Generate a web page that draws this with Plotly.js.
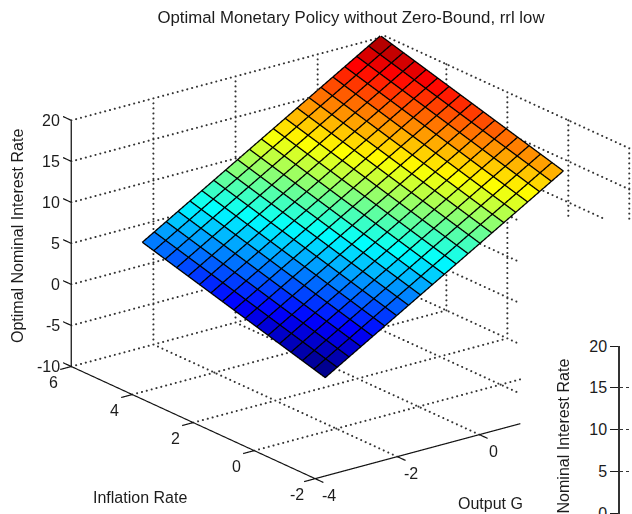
<!DOCTYPE html>
<html><head><meta charset="utf-8">
<script src="https://cdn.plot.ly/plotly-3.0.1.min.js"></script>
<style>html,body{margin:0;padding:0;background:#fff}#c{width:632px;height:514px}</style>
</head><body><div id="c"></div>
<script>
const outputGap=[-2.27,-1.98,-1.69,-1.40,-1.11,-0.82,-0.53,-0.24,0.05,0.34,0.63,0.92,1.21,1.50,1.79,2.08,2.37,2.66,2.95,3.24,3.53];
const inflation=[0,0.375,0.75,1.125,1.5,1.875,2.25,2.625,3,3.375,3.75,4.125,4.5,4.875,5.25,5.625,6];
const rate=[
[-3.50,-2.63,-1.76,-0.89,-0.02,0.85,1.72,2.59,3.46,4.33,5.20,6.07,6.94,7.81,8.68,9.55,10.42,11.29,12.16,13.03,13.90],
[-3.11,-2.24,-1.37,-0.50,0.37,1.24,2.11,2.98,3.85,4.72,5.59,6.46,7.33,8.20,9.07,9.94,10.81,11.68,12.55,13.42,14.29],
[-2.72,-1.85,-0.98,-0.11,0.76,1.63,2.50,3.37,4.24,5.11,5.98,6.85,7.72,8.59,9.46,10.33,11.20,12.07,12.94,13.81,14.68],
[-2.33,-1.46,-0.59,0.28,1.15,2.02,2.89,3.76,4.63,5.50,6.37,7.24,8.11,8.98,9.85,10.72,11.59,12.46,13.33,14.20,15.07],
[-1.94,-1.07,-0.20,0.67,1.54,2.41,3.28,4.15,5.02,5.89,6.76,7.63,8.50,9.37,10.24,11.11,11.98,12.85,13.72,14.59,15.46],
[-1.55,-0.68,0.19,1.06,1.93,2.80,3.67,4.54,5.41,6.28,7.15,8.02,8.89,9.76,10.63,11.50,12.37,13.24,14.11,14.98,15.85],
[-1.16,-0.29,0.58,1.45,2.32,3.19,4.06,4.93,5.80,6.67,7.54,8.41,9.28,10.15,11.02,11.89,12.76,13.63,14.50,15.37,16.24],
[-0.77,0.10,0.97,1.84,2.71,3.58,4.45,5.32,6.19,7.06,7.93,8.80,9.67,10.54,11.41,12.28,13.15,14.02,14.89,15.76,16.63],
[-0.38,0.49,1.36,2.23,3.10,3.97,4.84,5.71,6.58,7.45,8.32,9.19,10.06,10.93,11.80,12.67,13.54,14.41,15.28,16.15,17.02],
[0.01,0.88,1.75,2.62,3.49,4.36,5.23,6.10,6.97,7.84,8.71,9.58,10.45,11.32,12.19,13.06,13.93,14.80,15.67,16.54,17.41],
[0.40,1.27,2.14,3.01,3.88,4.75,5.62,6.49,7.36,8.23,9.10,9.97,10.84,11.71,12.58,13.45,14.32,15.19,16.06,16.93,17.80],
[0.79,1.66,2.53,3.40,4.27,5.14,6.01,6.88,7.75,8.62,9.49,10.36,11.23,12.10,12.97,13.84,14.71,15.58,16.45,17.32,18.19],
[1.18,2.05,2.92,3.79,4.66,5.53,6.40,7.27,8.14,9.01,9.88,10.75,11.62,12.49,13.36,14.23,15.10,15.97,16.84,17.71,18.58],
[1.57,2.44,3.31,4.18,5.05,5.92,6.79,7.66,8.53,9.40,10.27,11.14,12.01,12.88,13.75,14.62,15.49,16.36,17.23,18.10,18.97],
[1.96,2.83,3.70,4.57,5.44,6.31,7.18,8.05,8.92,9.79,10.66,11.53,12.40,13.27,14.14,15.01,15.88,16.75,17.62,18.49,19.36],
[2.35,3.22,4.09,4.96,5.83,6.70,7.57,8.44,9.31,10.18,11.05,11.92,12.79,13.66,14.53,15.40,16.27,17.14,18.01,18.88,19.75],
[2.74,3.61,4.48,5.35,6.22,7.09,7.96,8.83,9.70,10.57,11.44,12.31,13.18,14.05,14.92,15.79,16.66,17.53,18.40,19.27,20.14]
];
const xTicks=[-4,-2,0,2];
const xLabels=[-4,-2,0];
const yTicks=[-2,0,2,4,6];
const zTicks=[-10,-5,0,5,10,15,20];
const insetTicks=[0,5,10,15,20];
const X0=-4,X1=3.65,Y0=-2,Y1=6,Z0=-10,Z1=20;
const INK='#1c1c1c',FONT='"Liberation Sans",Arial,sans-serif',FS=16;

// the neighbouring panel covers this corner of the picture: x>522, y>218
function approxPx(x,y,z){return [317+41*(x+4)-30.5*(y+2),477-11*(x+4)-14*(y+2)-8.2*(z+10)];}
function visible(p){return !(p[0]>522&&p[1]>218);}
function lerp(a,b,t){return [a[0]+(b[0]-a[0])*t,a[1]+(b[1]-a[1])*t,a[2]+(b[2]-a[2])*t];}
function lastVisible(a,b){let n=300,last=0;for(let s=0;s<=n;s++){const q=lerp(a,b,s/n);if(!visible(approxPx(q[0],q[1],q[2])))break;last=s/n;}return last;}
function pushSeg(a,b,o){const e=lerp(a,b,lastVisible(a,b));o.x.push(a[0],e[0],null);o.y.push(a[1],e[1],null);o.z.push(a[2],e[2],null);}
function pushDots(a,b,o){
  const pa=approxPx(a[0],a[1],a[2]),pb=approxPx(b[0],b[1],b[2]);
  const len=Math.hypot(pb[0]-pa[0],pb[1]-pa[1]),n=Math.round(len/5),last=lastVisible(a,b);
  for(let s=0;s<=n;s++){const t=s/n;if(t>last)break;const q=lerp(a,b,t);o.x.push(q[0]);o.y.push(q[1]);o.z.push(q[2]);}
}
const dots={x:[],y:[],z:[]},solid={x:[],y:[],z:[]},mesh={x:[],y:[],z:[]};
zTicks.forEach(z=>{pushDots([X0,Y1,z],[X1,Y1,z],dots);pushDots([X1,Y1,z],[X1,Y0,z],dots);});
xTicks.slice(1).forEach(x=>{pushDots([x,Y1,Z1],[x,Y1,Z0],dots);pushDots([x,Y1,Z0],[x,Y0,Z0],dots);});
yTicks.slice(1,4).forEach(y=>{pushDots([X1,y,Z1],[X1,y,Z0],dots);pushDots([X0,y,Z0],[X1,y,Z0],dots);});
pushDots([X1,Y1,Z1],[X1,Y1,Z0],dots);pushDots([X1,Y0,Z1],[X1,Y0,Z0],dots);
pushSeg([X0,Y1,Z0],[X0,Y1,Z1],solid);pushSeg([X0,Y1,Z0],[X0,Y0,Z0],solid);pushSeg([X0,Y0,Z0],[X1,Y0,Z0],solid);
zTicks.forEach(z=>pushSeg([X0,Y1,z],[X0,Y1+0.27,z],solid));
yTicks.forEach(y=>pushSeg([X0,y,Z0],[X0-0.27,y,Z0],solid));
xTicks.forEach(x=>{if(x<2)pushSeg([x,Y0,Z0],[x,Y0-0.27,Z0],solid);});

// surface mesh
const mx=[],my=[],mz=[],mi=[],mj=[],mk=[],mc=[],nx=outputGap.length,ny=inflation.length;
inflation.forEach((y,j)=>outputGap.forEach((x,i)=>{mx.push(x);my.push(y);mz.push(rate[j][i]);}));
for(let j=0;j<ny-1;j++)for(let i=0;i<nx-1;i++){
  const a=j*nx+i,b=a+1,c=a+nx,d=c+1;
  mi.push(a,a);mj.push(b,d);mk.push(d,c);mc.push(rate[j][i],rate[j][i]);
}
const LIFT=0.08;
inflation.forEach((y,j)=>{outputGap.forEach((x,i)=>{mesh.x.push(x);mesh.y.push(y);mesh.z.push(rate[j][i]+LIFT);});mesh.x.push(null);mesh.y.push(null);mesh.z.push(null);});
outputGap.forEach((x,i)=>{inflation.forEach((y,j)=>{mesh.x.push(x);mesh.y.push(y);mesh.z.push(rate[j][i]+LIFT);});mesh.x.push(null);mesh.y.push(null);mesh.z.push(null);});

const jet=[[0,'rgb(0,0,143)'],[0.125,'rgb(0,0,255)'],[0.375,'rgb(0,255,255)'],[0.625,'rgb(255,255,0)'],[0.875,'rgb(255,0,0)'],[1,'rgb(128,0,0)']];
const traces=[
 {type:'scatter3d',mode:'markers',x:dots.x,y:dots.y,z:dots.z,marker:{color:'#333',size:1.2,line:{width:0}},hoverinfo:'skip',showlegend:false},
 {type:'scatter3d',mode:'lines',x:solid.x,y:solid.y,z:solid.z,line:{color:'#111',width:2.4},hoverinfo:'skip',showlegend:false},
 {type:'mesh3d',x:mx,y:my,z:mz,i:mi,j:mj,k:mk,intensity:mc,intensitymode:'cell',colorscale:jet,cmin:-3.5,cmax:20.14,showscale:false,flatshading:true,
  lighting:{ambient:1,diffuse:0,specular:0,roughness:1,fresnel:0},hoverinfo:'skip'},
 {type:'scatter3d',mode:'lines',x:mesh.x,y:mesh.y,z:mesh.z,line:{color:'#000',width:2.6},hoverinfo:'skip',showlegend:false},
 {type:'scatter',x:[0],y:[20],xaxis:'x',yaxis:'y',mode:'markers',marker:{opacity:0},hoverinfo:'skip',showlegend:false}
];
const tf={family:FONT,size:FS,color:INK};
const ann=[];
function lab(x,y,z,text,xshift,yshift,xanchor){ann.push({x,y,z,text,showarrow:false,font:tf,xshift,yshift,xanchor:xanchor||'center',yanchor:'middle'});}
zTicks.forEach(z=>lab(X0,Y1,z,String(z),-9,0,'right'));
yTicks.forEach(y=>lab(X0,y,Z0,String(y),-18,-16,'center'));
xLabels.forEach(x=>lab(x,Y0,Z0,String(x),14,-17,'center'));
const off={showbackground:false,showgrid:false,zeroline:false,showline:false,showticklabels:false,ticks:'',showspikes:false,title:{text:''}};
const dir=[-0.568,-0.744,0.351],D=1.94,cx=-0.090,cy=0.069,cz=0.009;
const layout={
 width:632,height:514,margin:{l:0,r:0,t:0,b:0},paper_bgcolor:'#fff',plot_bgcolor:'rgba(0,0,0,0)',showlegend:false,
 title:{text:'Optimal Monetary Policy without Zero-Bound, rrl low',font:{family:FONT,size:16.8,color:INK},x:351/632,xanchor:'center',y:1-17/514,yanchor:'middle'},
 scene:{domain:{x:[0,1],y:[0,1]},bgcolor:'rgba(0,0,0,0)',aspectmode:'manual',aspectratio:{x:1.608,y:1.681,z:1.04},
  xaxis:Object.assign({range:[-4.3,3.7]},off),yaxis:Object.assign({range:[-2.3,6.3]},off),zaxis:Object.assign({range:[-10.3,20.2]},off),
  camera:{projection:{type:'orthographic'},up:{x:0,y:0,z:1},center:{x:cx,y:cy,z:cz},eye:{x:cx+D*dir[0],y:cy+D*dir[1],z:cz+D*dir[2]}},
  annotations:ann},
 xaxis:{domain:[620/632,1],range:[0,1],visible:false,fixedrange:true},
 yaxis:{domain:[0,(514-346)/514],range:[-0.12,20],tickvals:insetTicks,ticks:'outside',ticklen:8,tickcolor:INK,tickfont:tf,showline:true,linecolor:'#333',linewidth:1.5,ticklabeloverflow:'allow',
   showgrid:true,griddash:'dot',gridcolor:'#333',gridwidth:1,zeroline:false,anchor:'x',fixedrange:true},
 annotations:[
  {xref:'paper',yref:'paper',x:18/632,xanchor:'center',y:1-236/514,yanchor:'middle',text:'Optimal Nominal Interest Rate',textangle:-90,showarrow:false,font:tf},
  {xref:'paper',yref:'paper',x:563/632,xanchor:'center',y:1-466/514,yanchor:'middle',text:'Optimal Nominal Interest Rate',textangle:-90,showarrow:false,font:tf},
  {xref:'paper',yref:'paper',x:140/632,xanchor:'center',y:1-497/514,yanchor:'middle',text:'Inflation Rate',showarrow:false,font:tf},
  {xref:'paper',yref:'paper',x:456/632,xanchor:'left',y:1-503/514,yanchor:'middle',text:'Output G',showarrow:false,font:tf}
 ]
};
Plotly.newPlot('c',traces,layout,{displayModeBar:false});
</script></body></html>
